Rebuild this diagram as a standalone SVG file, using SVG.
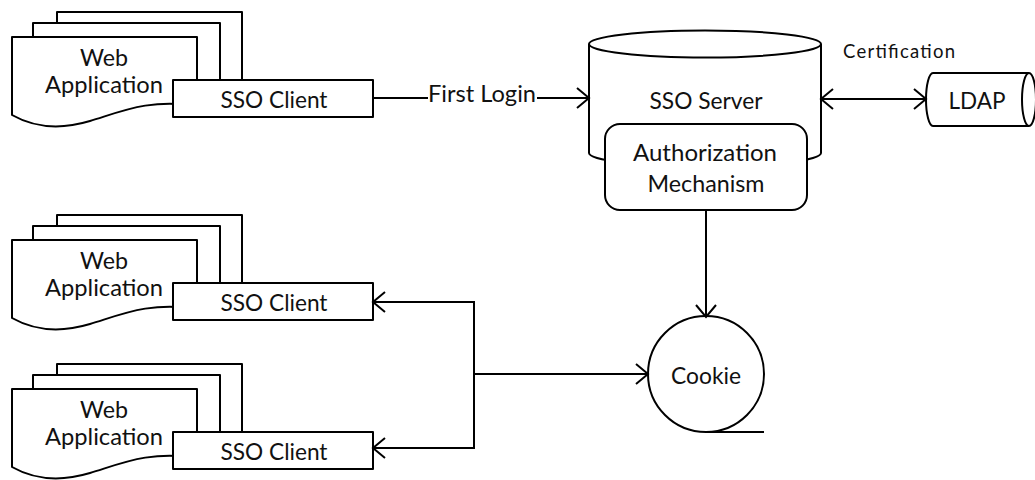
<svg xmlns="http://www.w3.org/2000/svg" width="1035" height="480" viewBox="0 0 1035 480">
<style>
.s{fill:#fff;stroke:#000;stroke-width:2;stroke-linejoin:round}
.t{font-family:Lato,"Liberation Sans",sans-serif;font-size:24px;fill:#111;text-anchor:middle}
.c{fill:none;stroke:#000;stroke-width:2}
</style>
<defs>
<marker id="a" markerUnits="userSpaceOnUse" markerWidth="16" markerHeight="24" viewBox="-2 -2 16 24" refX="12" refY="10" orient="auto-start-reverse">
<path d="M0,0 L12,10 L0,20" fill="none" stroke="#000" stroke-width="2"/>
</marker>
<g id="app">
<rect class="s" x="57" y="12" width="185" height="70"/>
<rect class="s" x="33" y="23" width="187" height="60"/>
<path class="s" d="M12,37 H197 V106 C150,98 120,112 90,121 C60,130 35,128 12,115 Z"/>
<rect class="s" x="173" y="80" width="200" height="37"/>
<text class="t" x="104" y="66" textLength="48" lengthAdjust="spacingAndGlyphs">Web</text>
<text class="t" x="104" y="93" textLength="118" lengthAdjust="spacingAndGlyphs">Application</text>
<text class="t" x="274" y="108" textLength="107" lengthAdjust="spacingAndGlyphs">SSO Client</text>
</g>
</defs>
<g id="webapp1"><use href="#app"/></g>
<g id="webapp2" transform="translate(0,203)"><use href="#app"/></g>
<g id="webapp3" transform="translate(0,352)"><use href="#app"/></g>
<g id="sso-server">
<path class="s" d="M589,44 V153 A116,13.5 0 0 0 821,153 V44"/>
<ellipse class="s" cx="705" cy="44" rx="116" ry="13.5"/>
<text class="t" x="706" y="109" textLength="113" lengthAdjust="spacingAndGlyphs">SSO Server</text>
</g>
<g id="auth">
<rect class="s" x="605" y="124" width="202" height="86" rx="15"/>
<text class="t" x="705" y="161" textLength="144" lengthAdjust="spacingAndGlyphs">Authorization</text>
<text class="t" x="706" y="192" textLength="117" lengthAdjust="spacingAndGlyphs">Mechanism</text>
</g>
<g id="ldap">
<path class="s" d="M933,73 H1029 A7,26.5 0 0 1 1029,126 H933 A7,26.5 0 0 1 933,73 Z"/>
<path class="c" d="M1029,73 A7,26.5 0 0 0 1029,126"/>
<text class="t" x="977" y="109" textLength="57" lengthAdjust="spacingAndGlyphs">LDAP</text>
</g>
<g id="cookie">
<circle class="s" cx="706" cy="374" r="58"/>
<path class="c" d="M706,432 H764"/>
<text class="t" x="706" y="384" textLength="70" lengthAdjust="spacingAndGlyphs">Cookie</text>
</g>
<g id="connectors">
<path class="c" d="M373,98 H428"/>
<path class="c" d="M537,98 H589" marker-end="url(#a)"/>
<text class="t" x="482" y="102" textLength="108" lengthAdjust="spacingAndGlyphs">First Login</text>
<path class="c" d="M821,99 H926" marker-start="url(#a)" marker-end="url(#a)"/>
<text class="t" x="899" y="58" textLength="112" lengthAdjust="spacing" style="font-size:18.5px">Certification</text>
<path class="c" d="M706,210 V317" marker-end="url(#a)"/>
<path class="c" d="M474,374 H648" marker-end="url(#a)"/>
<path class="c" d="M474,374 V302 H373" marker-end="url(#a)"/>
<path class="c" d="M474,374 V448 H373" marker-end="url(#a)"/>
</g>
</svg>
